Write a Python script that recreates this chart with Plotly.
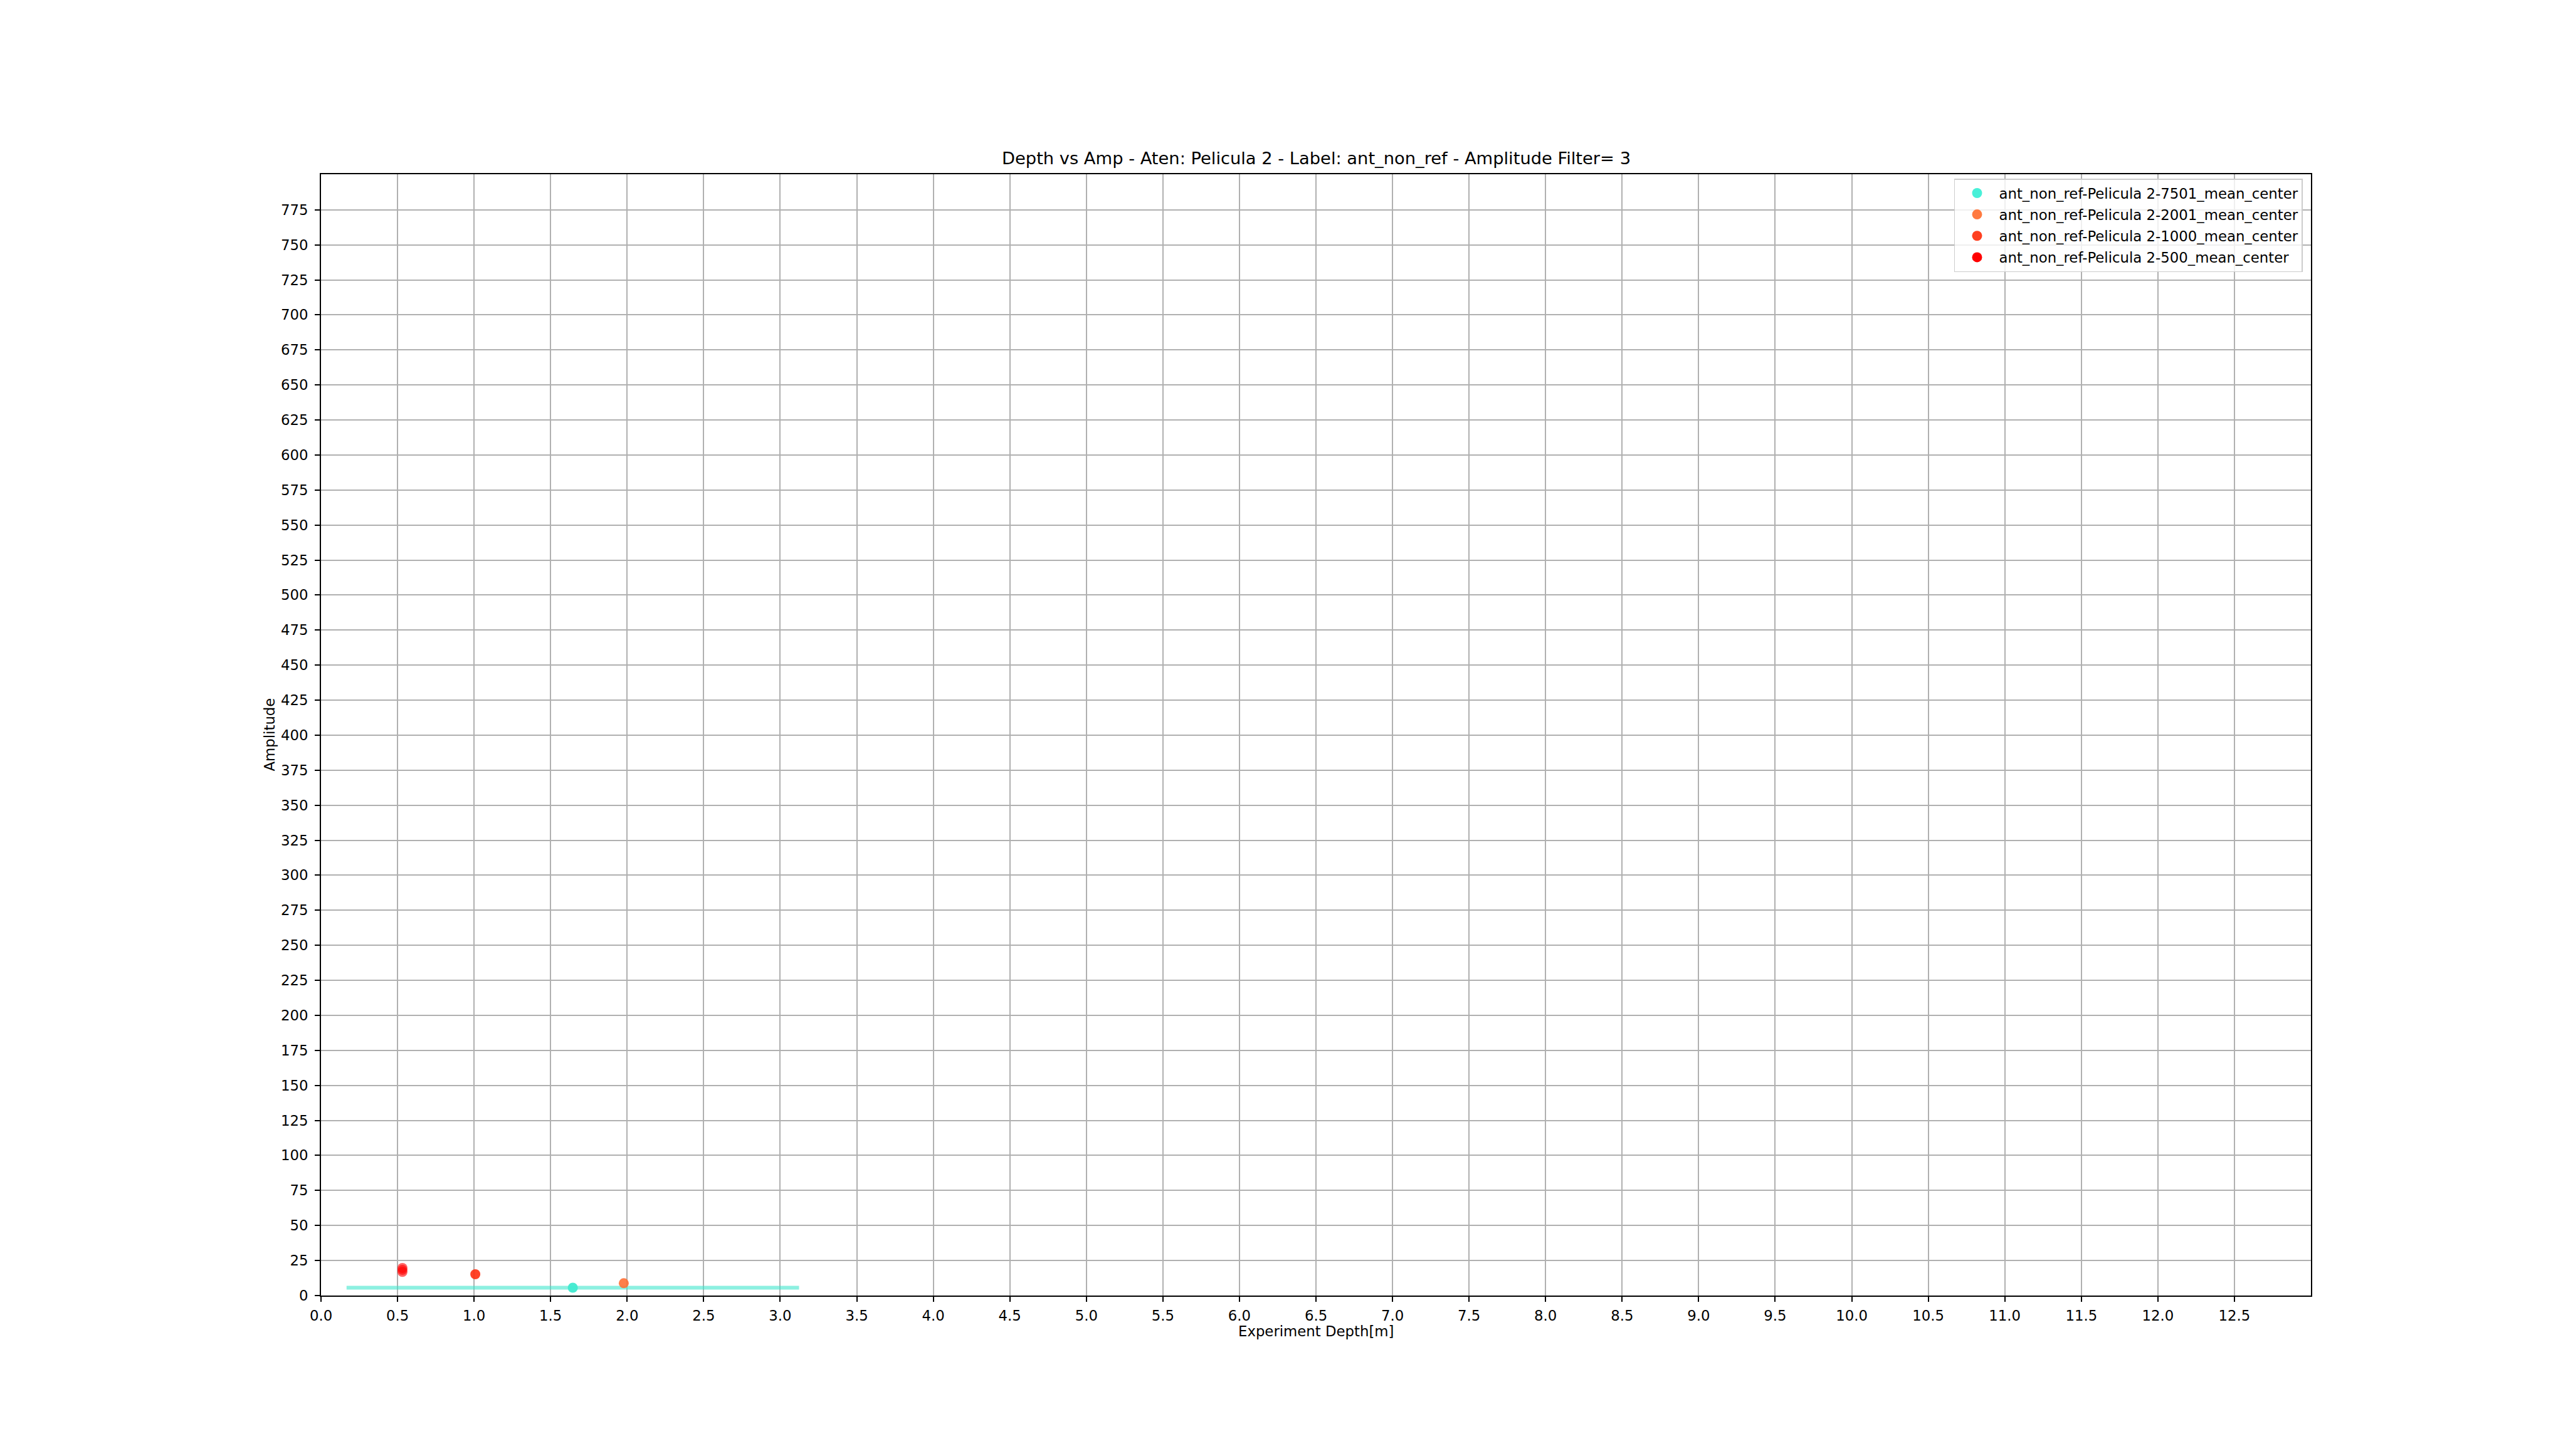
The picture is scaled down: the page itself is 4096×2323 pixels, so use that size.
import plotly.graph_objects as go

# ---- data ----
series_names = [
    "ant_non_ref-Pelicula 2-7501_mean_center",
    "ant_non_ref-Pelicula 2-2001_mean_center",
    "ant_non_ref-Pelicula 2-1000_mean_center",
    "ant_non_ref-Pelicula 2-500_mean_center",
]
x_7501 = [1.645]
y_7501 = [5.6]
xerr_7501 = [1.478]

x_2001 = [1.978]
y_2001 = [8.8]

x_1000 = [1.008]
y_1000 = [15.2]

x_500 = [0.532, 0.532, 0.532]
y_500 = [19.7, 18.3, 16.9]

x_ticks = [i * 0.5 for i in range(26)]
y_ticks = list(range(0, 800, 25))

title_text = "Depth vs Amp - Aten: Pelicula 2 - Label: ant_non_ref - Amplitude Filter= 3"
x_label = "Experiment Depth[m]"
y_label = "Amplitude"

point_colors = ["rgba(64,234,208,0.95)", "rgba(255,108,48,0.88)",
                "rgba(255,48,18,0.9)", "rgba(255,0,0,0.6)"]
legend_colors = ["rgb(72,240,216)", "rgb(255,122,64)",
                 "rgb(255,64,32)", "rgb(255,0,0)"]

FONT = "DejaVu Sans"
FS = 22.8

fig = go.Figure()

series = [(x_7501, y_7501), (x_2001, y_2001), (x_1000, y_1000), (x_500, y_500)]
for i, (xs, ys) in enumerate(series):
    kw = {}
    if i == 0:
        kw["error_x"] = dict(type="data", array=xerr_7501, visible=True, width=0,
                             thickness=6, color="rgba(64,230,205,0.6)")
    fig.add_trace(go.Scatter(
        x=xs, y=ys, mode="markers", name=series_names[i], showlegend=False,
        legendgroup=series_names[i],
        marker=dict(size=16, color=point_colors[i], line=dict(width=0)), **kw))

# legend entries (solid colour swatches)
for i in range(4):
    fig.add_trace(go.Scatter(
        x=[None], y=[None], mode="markers", name=series_names[i],
        legendgroup=series_names[i], showlegend=True,
        marker=dict(size=16, color=legend_colors[i], line=dict(width=0))))

axis_common = dict(
    showgrid=True, gridcolor="#b0b0b0", gridwidth=1.5,
    showline=True, linecolor="black", linewidth=1.7, mirror=True,
    ticks="outside", ticklen=8, tickwidth=1.6, tickcolor="black",
    zeroline=False,
    tickfont=dict(family=FONT, size=FS, color="black"),
)

fig.update_xaxes(range=[0, 13.0], tickmode="array", tickvals=x_ticks,
                 ticktext=[f"{v:.1f}" for v in x_ticks], ticklabelstandoff=3,
                 **axis_common)
fig.update_yaxes(range=[0, 800.4], tickmode="array", tickvals=y_ticks,
                 ticktext=[str(v) for v in y_ticks], ticklabelstandoff=6,
                 **axis_common)

fig.add_annotation(text=title_text, xref="paper", yref="paper", x=0.5, y=1,
                   xanchor="center", yanchor="bottom", yshift=8, showarrow=False,
                   font=dict(family=FONT, size=27.3, color="black"))
fig.add_annotation(text=x_label, xref="paper", yref="paper", x=0.5, y=0,
                   xanchor="center", yanchor="middle", yshift=-57, showarrow=False,
                   font=dict(family=FONT, size=FS, color="black"))
fig.add_annotation(text=y_label, xref="paper", yref="paper", x=0, y=0.5,
                   xanchor="center", yanchor="middle", xshift=-83, textangle=-90,
                   showarrow=False, font=dict(family=FONT, size=FS, color="black"))

fig.update_layout(
    width=4096, height=2323,
    margin=dict(l=512, r=410, t=278, b=256, pad=0),
    paper_bgcolor="white", plot_bgcolor="white",
    font=dict(family=FONT, size=FS, color="black"),
    showlegend=True,
    legend=dict(x=0.9959, y=0.996, xanchor="right", yanchor="top",
                bgcolor="rgba(255,255,255,0.8)", bordercolor="#cccccc",
                borderwidth=1.5, font=dict(family=FONT, size=FS, color="black"),
                itemsizing="trace", itemwidth=60, tracegroupgap=1.5,
                groupclick="toggleitem"),
)

fig.write_html("out.html")
